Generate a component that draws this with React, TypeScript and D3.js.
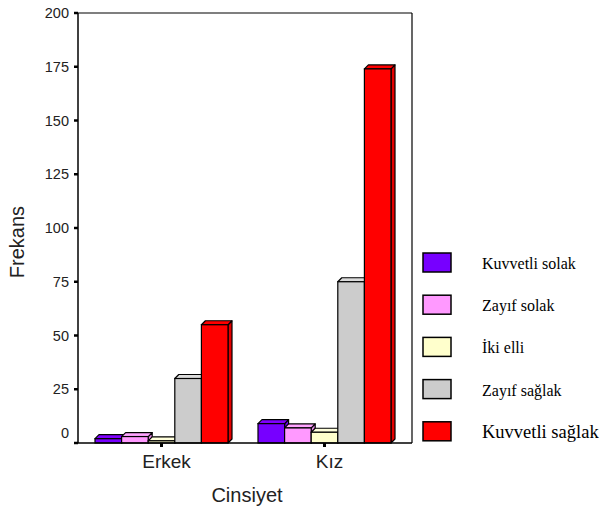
import React from "react";
import * as d3 from "d3";

const categories = ["Erkek", "Kız"];
const seriesNames = ["Kuvvetli solak", "Zayıf solak", "İki elli", "Zayıf sağlak", "Kuvvetli sağlak"];
const seriesColors = ["#7700ff", "#ff99ff", "#ffffcc", "#cccccc", "#ff0000"];
const erkekValues = [2, 3, 1, 30, 55];
const kizValues = [9, 7, 5, 75, 174];
const yTicks = [0, 25, 50, 75, 100, 125, 150, 175, 200];

const W = 604, H = 512;
const left = 78, right = 412, top = 13, bottom = 443;
const depth = 4;

export default function App() {
  const values = [erkekValues, kizValues];
  const y = d3.scaleLinear().domain([0, 200]).range([bottom, top]);
  const x0 = d3.scaleBand<string>().domain(categories).range([95, 391]).paddingInner(0.184).paddingOuter(0);
  const x1 = d3.scaleBand<string>().domain(seriesNames).range([0, x0.bandwidth()]).padding(0);
  const bw = x1.bandwidth();

  const bars: React.ReactNode[] = [];
  categories.forEach((c, ci) => {
    seriesNames.forEach((s, si) => {
      const v = values[ci][si];
      const xa = (x0(c) as number) + (x1(s) as number);
      const xb = xa + bw;
      const yt = y(v);
      const yb = y(0);
      const col = d3.color(seriesColors[si])!;
      const topCol = col.brighter(0.2).toString();
      const sideCol = col.darker(0.3).toString();
      bars.push(
        <g key={c + s}>
          <polygon
            points={`${xb},${yb} ${xb + depth},${yb - depth} ${xb + depth},${yt - depth} ${xb},${yt}`}
            fill={sideCol} stroke="#000" strokeWidth={1.2} strokeLinejoin="round" />
          <polygon
            points={`${xa},${yt} ${xa + depth},${yt - depth} ${xb + depth},${yt - depth} ${xb},${yt}`}
            fill={topCol} stroke="#000" strokeWidth={1.2} strokeLinejoin="round" />
          <rect x={xa} y={yt} width={bw} height={yb - yt} fill={seriesColors[si]} stroke="#000" strokeWidth={1.2} />
        </g>
      );
    });
  });

  return (
    <svg width={W} height={H} style={{ position: "absolute", left: 0, top: 0, background: "#fff" }}>
      <rect x={0} y={0} width={W} height={H} fill="#fff" />
      <line x1={left} y1={top} x2={right} y2={top} stroke="#000" strokeWidth={1.2} />
      <line x1={right} y1={top} x2={right} y2={bottom} stroke="#000" strokeWidth={1.2} />
      {bars}
      <line x1={left} y1={bottom} x2={right} y2={bottom} stroke="#000" strokeWidth={1.5} />
      <line x1={left} y1={top} x2={left} y2={bottom} stroke="#000" strokeWidth={1.5} />
      {yTicks.map((t) => (
        <g key={t}>
          <line x1={left - 4} x2={left} y1={y(t)} y2={y(t)} stroke="#000" strokeWidth={2.5} />
          <text x={69} y={y(t) - (t === 0 ? 10 : 0)} dy="0.36em" textAnchor="end"
            fontFamily="Liberation Sans, Arial, sans-serif" fontSize={14.5} fill="#222">{t}</text>
        </g>
      ))}
      {categories.map((c) => {
        const cx = (x0(c) as number) + x0.bandwidth() / 2;
        return (
          <g key={c}>
            <line x1={cx} x2={cx} y1={bottom} y2={bottom + 4} stroke="#000" strokeWidth={3} />
            <text x={cx + 5} y={468} textAnchor="middle" fontFamily="Liberation Sans, Arial, sans-serif"
              fontSize={19} fill="#222">{c}</text>
          </g>
        );
      })}
      <text x={247} y={502} textAnchor="middle" fontFamily="Liberation Sans, Arial, sans-serif"
        fontSize={20} fill="#222">Cinsiyet</text>
      <text transform="translate(24,242) rotate(-90)" textAnchor="middle"
        fontFamily="Liberation Sans, Arial, sans-serif" fontSize={20} fill="#222">Frekans</text>
      {seriesNames.map((s, i) => {
        const ly = 253 + i * 42.2;
        return (
          <g key={s}>
            <rect x={423} y={ly} width={28} height={19} fill={seriesColors[i]} stroke="#000" strokeWidth={1.5} />
            <text x={482} y={ly + 16} fontFamily="Liberation Serif, Times New Roman, serif"
              fontSize={i === 4 ? 18.5 : 16} fill="#000">{s}</text>
          </g>
        );
      })}
    </svg>
  );
}
